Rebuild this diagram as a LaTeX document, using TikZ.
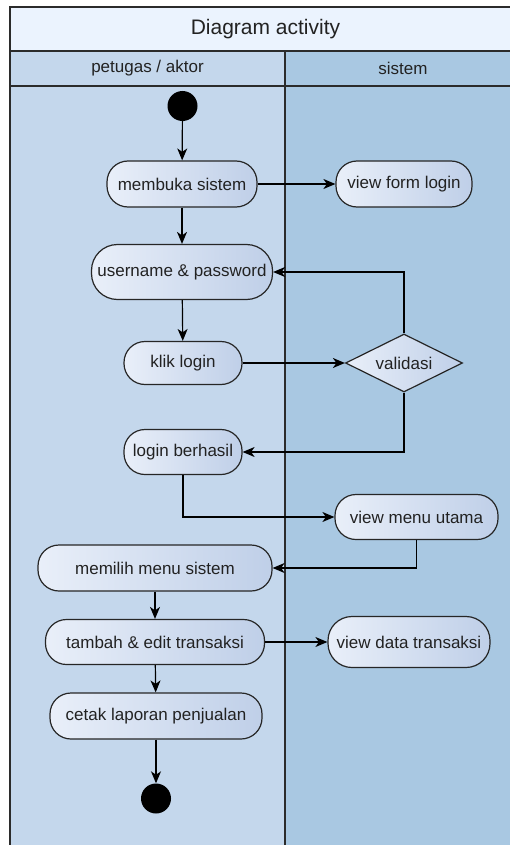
\documentclass[tikz,border=0pt]{standalone}
\usepackage{fontspec}
\setmainfont{Liberation Sans}
\usetikzlibrary{shapes.geometric,arrows.meta}

\definecolor{titlefill}{HTML}{EBF3FE}
\definecolor{lanea}{HTML}{C4D7EC}
\definecolor{laneb}{HTML}{A9C8E2}
\definecolor{framecol}{HTML}{2B2B2B}
\definecolor{nodeL}{HTML}{E9EFF9}
\definecolor{nodeR}{HTML}{BFCFE8}
\definecolor{txt}{HTML}{222222}

\tikzset{
  frameline/.style={draw=framecol, line width=1.6pt},
  act/.style={draw=black!85, line width=1.2pt, rounded corners=21pt,
    left color=nodeL, right color=nodeR, text=txt, inner sep=0pt,
    font=\fontsize{17}{20}\selectfont, minimum height=46pt},
  decision/.style={diamond, aspect=2, draw=black!85, line width=1.2pt,
    left color=nodeL, right color=nodeR, text=txt, inner sep=0pt,
    font=\fontsize{17}{20}\selectfont, minimum width=117pt, minimum height=58pt},
  dot/.style={circle, fill=black, minimum size=30pt, inner sep=0pt},
  arr/.style={draw=black, line width=1.2pt, -{Stealth[length=12pt, width=10pt, inset=3.5pt]}},
  lanelabel/.style={text=txt, font=\fontsize{17}{20}\selectfont},
}

\begin{document}
\begin{tikzpicture}[x=1pt, y=-1pt]
\useasboundingbox (0,0) rectangle (510,845);
\fill[white] (0,0) rectangle (510,845);

% pool and lanes
\fill[titlefill] (10,7) rectangle (521,51);
\fill[lanea] (10,51) rectangle (285,850);
\fill[laneb] (285,51) rectangle (521,850);
\draw[frameline] (521,7) -- (10,7) -- (10,850);
\draw[frameline] (10,51) -- (521,51);
\draw[frameline] (10,86) -- (521,86);
\draw[frameline] (285,51) -- (285,850);

\node[text=txt, font=\fontsize{21}{24}\selectfont] (title) at (265.5,29) {Diagram activity};
\node[lanelabel] (laneA) at (147.5,68.5) {petugas / aktor};
\node[lanelabel] (laneB) at (403,68.5) {sistem};

% activities
\node[dot] (start) at (182.5,106) {};
\node[act, minimum width=150pt] (buka) at (182,184) {membuka sistem};
\node[act, minimum width=136pt] (form) at (404,184) {view form login};
\node[act, minimum width=181pt, minimum height=55pt, rounded corners=26pt] (user) at (182,272) {username \& password};
\node[act, minimum width=118pt, minimum height=43pt] (klik) at (183,363) {klik login};
\node[decision] (valid) at (404,363) {validasi};
\node[act, minimum width=118pt, minimum height=45pt] (hasil) at (183,452) {login berhasil};
\node[act, minimum width=163pt, minimum height=45pt] (menu) at (416.5,517) {view menu utama};
\node[act, minimum width=234pt] (pilih) at (155,568) {memilih menu sistem};
\node[act, minimum width=219pt, minimum height=45pt] (tambah) at (155,642) {tambah \& edit transaksi};
\node[act, minimum width=162pt, minimum height=51pt, rounded corners=24pt] (data) at (409,642) {view data transaksi};
\node[act, minimum width=212pt] (cetak) at (156,716) {cetak laporan penjualan};
\node[dot] (stop) at (156,798.5) {};

% control flow
\draw[arr] (start) -- (buka);
\draw[arr] (buka) -- (form);
\draw[arr] (buka) -- (user);
\draw[arr] (user) -- (klik);
\draw[arr] (klik) -- (valid);
\draw[arr] (valid.north) |- (user.east);
\draw[arr] (valid.south) |- (hasil.east);
\draw[arr] (hasil.south) |- (menu.west);
\draw[arr] (menu.south) |- (pilih.east);
\draw[arr] (pilih) -- (tambah);
\draw[arr] (tambah) -- (data);
\draw[arr] (tambah) -- (cetak);
\draw[arr] (cetak) -- (stop);
\end{tikzpicture}
\end{document}
